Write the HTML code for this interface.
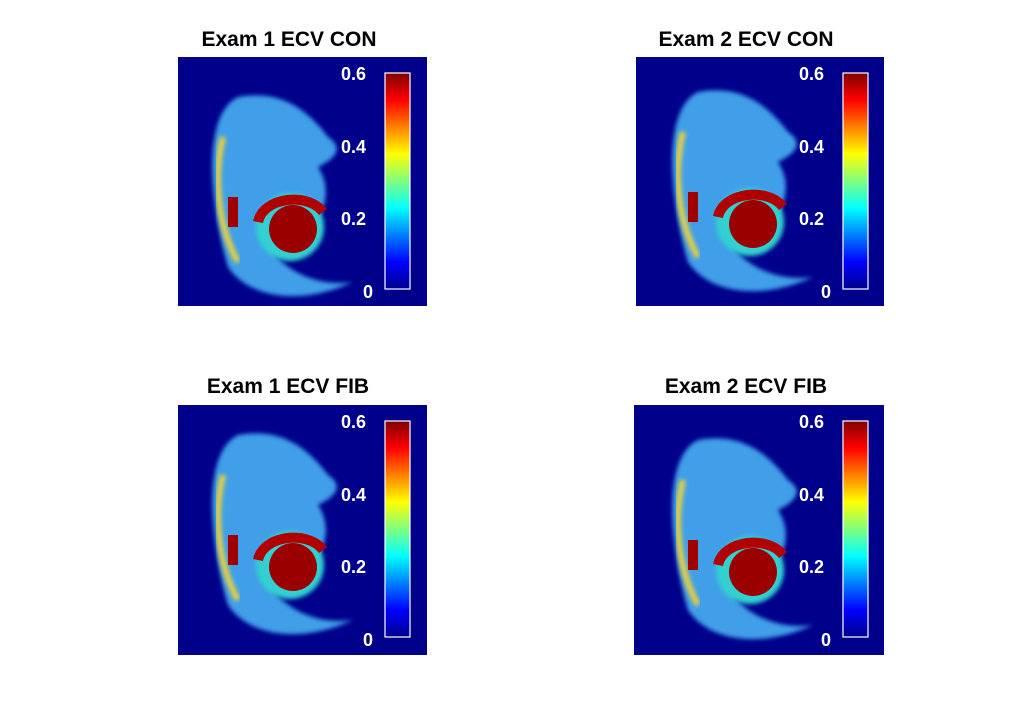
<!DOCTYPE html>
<html><head><meta charset="utf-8"><style>
html,body{margin:0;padding:0;background:#fff;}
svg{display:block}
text{font-family:"Liberation Sans",Arial,sans-serif;font-weight:bold;}
</style></head><body>
<svg width="1026" height="701" viewBox="0 0 1026 701">
<defs>
<linearGradient id="jet" x1="0" y1="1" x2="0" y2="0">
<stop offset="0" stop-color="#00008f"/>
<stop offset="0.125" stop-color="#0000ff"/>
<stop offset="0.375" stop-color="#00ffff"/>
<stop offset="0.625" stop-color="#ffff00"/>
<stop offset="0.875" stop-color="#ff0000"/>
<stop offset="1" stop-color="#800000"/>
</linearGradient>
<filter id="bl"><feGaussianBlur stdDeviation="2"/></filter>
<g id="anat">
<path d="M60,40 C20,60 35,160 50,210 C70,240 120,250 175,225 C140,230 110,215 95,195 C140,180 160,140 140,110 C160,100 165,90 150,80 C120,40 90,35 60,40 Z" fill="#3f9fe8" filter="url(#bl)"/>
<path d="M45,80 C35,120 40,170 60,205" stroke="#e8d040" stroke-width="6" fill="none" filter="url(#bl)"/>
<circle cx="112" cy="170" r="34" fill="#30d0d0" filter="url(#bl)"/>
<path d="M80,165 C85,140 130,135 145,155" stroke="#b00000" stroke-width="10" fill="none"/>
<circle cx="115" cy="172" r="24" fill="#9a0000"/>
<rect x="50" y="140" width="10" height="30" fill="#a00000"/>
</g>
</defs>

<g font-size="21" fill="#000" text-anchor="middle">
<text x="289" y="46">Exam 1 ECV CON</text>
<text x="746" y="46">Exam 2 ECV CON</text>
<text x="288" y="393">Exam 1 ECV FIB</text>
<text x="746" y="393">Exam 2 ECV FIB</text>
</g>

<!-- panel 1 -->
<rect x="178" y="57" width="249" height="249" fill="#00008b"/>
<g transform="translate(178,57)"><use href="#anat"/></g>
<!-- panel 2 -->
<rect x="636" y="57" width="248" height="249" fill="#00008b"/>
<g transform="translate(638,52)"><use href="#anat"/></g>
<!-- panel 3 -->
<rect x="178" y="405" width="249" height="250" fill="#00008b"/>
<g transform="translate(178,395)"><use href="#anat"/></g>
<!-- panel 4 -->
<rect x="634" y="405" width="250" height="250" fill="#00008b"/>
<g transform="translate(638,400)"><use href="#anat"/></g>

<g stroke="#fff" stroke-width="1.2">
<rect x="385" y="73" width="25" height="216" fill="url(#jet)"/>
<rect x="843" y="73" width="25" height="216" fill="url(#jet)"/>
<rect x="385" y="421" width="25" height="216" fill="url(#jet)"/>
<rect x="843" y="421" width="25" height="216" fill="url(#jet)"/>
</g>

<g font-size="18" fill="#fff" text-anchor="end">
<text x="366" y="80">0.6</text><text x="366" y="153">0.4</text><text x="366" y="225">0.2</text><text x="373" y="298">0</text>
<text x="824" y="80">0.6</text><text x="824" y="153">0.4</text><text x="824" y="225">0.2</text><text x="831" y="298">0</text>
<text x="366" y="428">0.6</text><text x="366" y="501">0.4</text><text x="366" y="573">0.2</text><text x="373" y="646">0</text>
<text x="824" y="428">0.6</text><text x="824" y="501">0.4</text><text x="824" y="573">0.2</text><text x="831" y="646">0</text>
</g>
</svg>
</body></html>
